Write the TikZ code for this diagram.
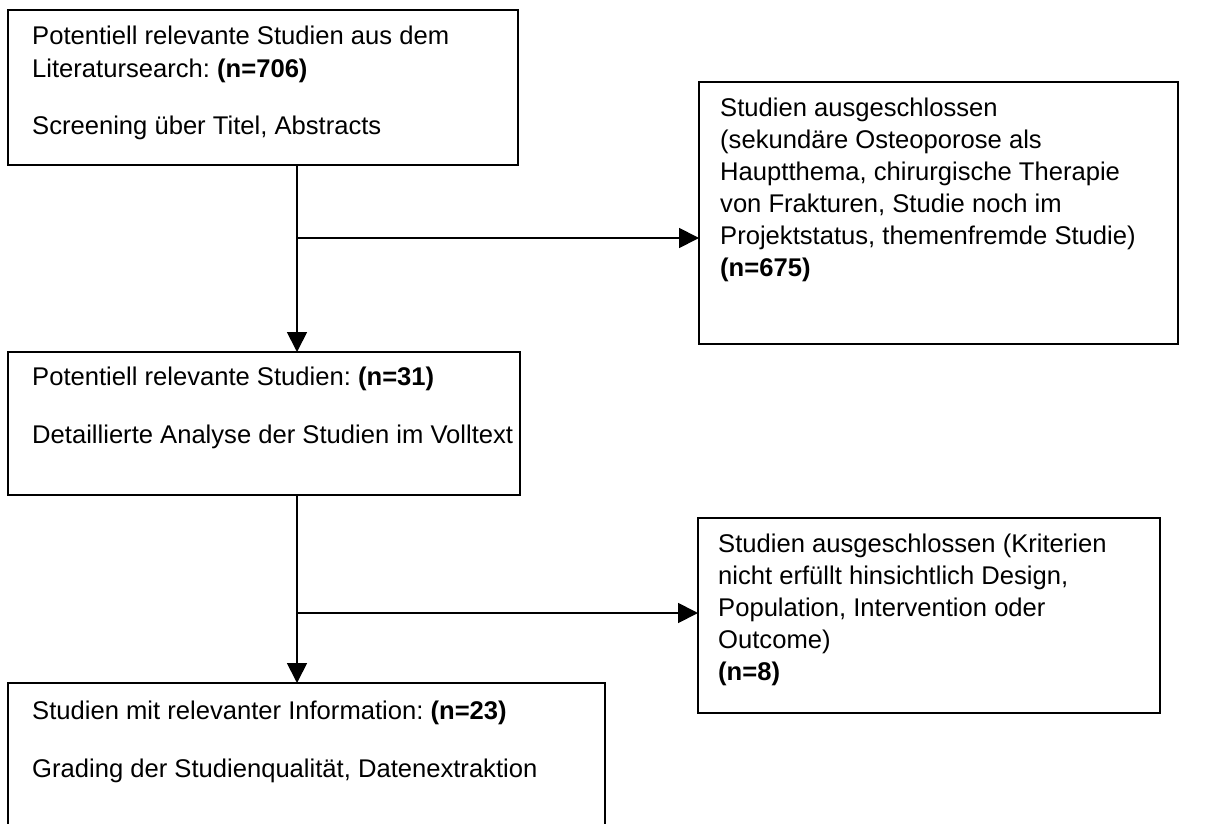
\documentclass[tikz,border=0pt]{standalone}
\usepackage{fontspec}
\setmainfont{Liberation Sans}
\usetikzlibrary{arrows.meta}
\begin{document}
\frenchspacing
\begin{tikzpicture}[x=1pt,y=-1pt,
  box/.style={draw, line width=1.8pt, anchor=north west, inner sep=0pt, outer sep=0pt},
  txt/.style={anchor=north west, inner sep=0pt, align=left},
  arr/.style={line width=1.8pt, -{Triangle[length=20pt,width=20pt]}},
  ln/.style={line width=1.8pt}]
\clip (0,0) rectangle (1215,824);
\fill[white] (0,0) rectangle (1215,824);
% boxes
\node[box, minimum width=510pt, minimum height=155pt] (b1) at (8,10) {};
\node[box, minimum width=479pt, minimum height=262pt] (r1) at (699,82) {};
\node[box, minimum width=512pt, minimum height=143pt] (b2) at (8,352) {};
\node[box, minimum width=462pt, minimum height=195pt] (r2) at (698,518) {};
\node[box, minimum width=597pt, minimum height=160pt] (b3) at (8,683) {};
% texts
\node[txt, font=\fontsize{25.6}{33}\selectfont] (t1) at (32,26)
  {Potentiell relevante Studien aus dem\\ Literatursearch: \textbf{(n=706)}\\[24pt] Screening über Titel, Abstracts};
\node[txt, font=\fontsize{25.6}{32}\selectfont] (tr1) at (720,98)
  {Studien ausgeschlossen\\ (sekundäre Osteoporose als\\ Hauptthema, chirurgische Therapie\\ von Frakturen, Studie noch im\\ Projektstatus, themenfremde Studie)\\ \textbf{(n=675)}};
\node[txt, font=\fontsize{25.6}{33}\selectfont] (t2) at (32,367)
  {Potentiell relevante Studien: \textbf{(n=31)}\\[25pt] Detaillierte Analyse der Studien im Volltext};
\node[txt, font=\fontsize{25.6}{32}\selectfont] (tr2) at (718,534)
  {Studien ausgeschlossen (Kriterien\\ nicht erfüllt hinsichtlich Design,\\ Population, Intervention oder\\ Outcome)\\ \textbf{(n=8)}};
\node[txt, font=\fontsize{25.6}{33}\selectfont] (t3) at (32,701)
  {Studien mit relevanter Information: \textbf{(n=23)}\\[25pt] Grading der Studienqualität, Datenextraktion};
% connectors
\coordinate (j1) at (297,238);
\coordinate (j2) at (297,613);
\draw[arr] (b1.south -| j1) -- (b2.north -| j1);
\draw[arr] (j1) -- (r1.west |- j1);
\draw[arr] (b2.south -| j2) -- (b3.north -| j2);
\draw[arr] (j2) -- (r2.west |- j2);
\end{tikzpicture}
\end{document}
